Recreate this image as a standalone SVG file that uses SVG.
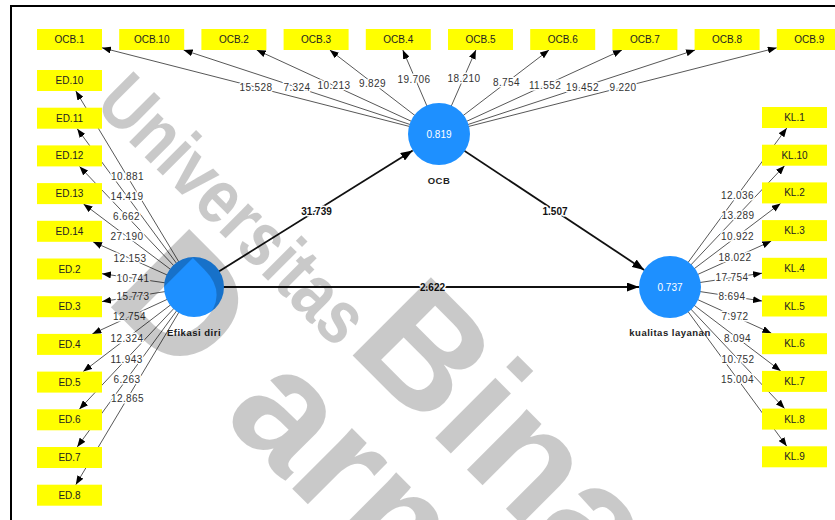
<svg xmlns="http://www.w3.org/2000/svg" width="835" height="520" viewBox="0 0 835 520">
<defs>
<marker id="ah" markerUnits="userSpaceOnUse" markerWidth="9" markerHeight="7" refX="9" refY="3.5" orient="auto"><path d="M0,0 L9,3.5 L0,7 z" fill="#000"/></marker>
<marker id="ahb" markerUnits="userSpaceOnUse" markerWidth="12" markerHeight="9" refX="12" refY="4.5" orient="auto"><path d="M0,0 L12,4.5 L0,9 z" fill="#000"/></marker>
</defs>
<style>
.box{fill:#ffff00}
.bt{font-family:"Liberation Sans",Arial,sans-serif;font-size:10px;fill:#222;text-anchor:middle}
.ol{stroke:#444;stroke-width:0.9;fill:none;marker-end:url(#ah)}
.il{stroke:#111;stroke-width:1.8;fill:none;marker-end:url(#ahb)}
.olab{font-family:"Liberation Sans",Arial,sans-serif;font-size:10px;fill:#333;text-anchor:middle;letter-spacing:0.4px;stroke:#fff;stroke-width:3;paint-order:stroke;stroke-linejoin:round}
.ilab{font-family:"Liberation Sans",Arial,sans-serif;font-size:10px;font-weight:bold;fill:#111;text-anchor:middle;stroke:#fff;stroke-width:3;paint-order:stroke;stroke-linejoin:round}
.lv{fill:#1e90ff}
.val{font-family:"Liberation Sans",Arial,sans-serif;font-size:10px;fill:#fff;text-anchor:middle}
.nl{font-family:"Liberation Sans",Arial,sans-serif;font-size:9.5px;font-weight:bold;fill:#222;text-anchor:middle;letter-spacing:0.5px}
.wm{font-family:"Liberation Sans",Arial,sans-serif;font-weight:bold;fill:#000;fill-opacity:0.21}
</style>
<rect x="0" y="0" width="835" height="520" fill="#fff"/>
<rect x="11" y="6" width="900" height="600" fill="none" stroke="#000" stroke-width="2"/>

<g id="connectors">
<line class="ol" x1="439" y1="134" x2="102" y2="47.8"/>
<line class="ol" x1="439" y1="134" x2="183.6" y2="50"/>
<line class="ol" x1="439" y1="134" x2="256.7" y2="50"/>
<line class="ol" x1="439" y1="134" x2="329.8" y2="50"/>
<line class="ol" x1="439" y1="134" x2="402.8" y2="50"/>
<line class="ol" x1="439" y1="134" x2="475.9" y2="50"/>
<line class="ol" x1="439" y1="134" x2="549" y2="50"/>
<line class="ol" x1="439" y1="134" x2="622" y2="50"/>
<line class="ol" x1="439" y1="134" x2="695.1" y2="50"/>
<line class="ol" x1="439" y1="134" x2="776.8" y2="47.8"/>

<line class="ol" x1="194" y1="287" x2="75.8" y2="91"/>
<line class="ol" x1="194" y1="287" x2="77.2" y2="128.7"/>
<line class="ol" x1="194" y1="287" x2="79.5" y2="166.4"/>
<line class="ol" x1="194" y1="287" x2="83.5" y2="203.9"/>
<line class="ol" x1="194" y1="287" x2="93" y2="241.8"/>
<line class="ol" x1="194" y1="287" x2="102" y2="273.7"/>
<line class="ol" x1="194" y1="287" x2="102" y2="301.6"/>
<line class="ol" x1="194" y1="287" x2="92.3" y2="333.9"/>
<line class="ol" x1="194" y1="287" x2="83.2" y2="371.6"/>
<line class="ol" x1="194" y1="287" x2="79.3" y2="409.3"/>
<line class="ol" x1="194" y1="287" x2="77.2" y2="447"/>
<line class="ol" x1="194" y1="287" x2="75.8" y2="484.7"/>

<line class="ol" x1="670" y1="287" x2="786.8" y2="128"/>
<line class="ol" x1="670" y1="287" x2="784.6" y2="165.7"/>
<line class="ol" x1="670" y1="287" x2="780.6" y2="203.4"/>
<line class="ol" x1="670" y1="287" x2="771.3" y2="241.1"/>
<line class="ol" x1="670" y1="287" x2="762" y2="273.2"/>
<line class="ol" x1="670" y1="287" x2="762" y2="301"/>
<line class="ol" x1="670" y1="287" x2="771.4" y2="333.2"/>
<line class="ol" x1="670" y1="287" x2="780.7" y2="370.9"/>
<line class="ol" x1="670" y1="287" x2="784.6" y2="408.6"/>
<line class="ol" x1="670" y1="287" x2="786.8" y2="446.3"/>

<line class="il" x1="194" y1="287" x2="412.7" y2="150.4"/>
<line class="il" x1="439" y1="134" x2="644.2" y2="269.9"/>
<line class="il" x1="194" y1="287" x2="639" y2="287"/>

<text class="olab" x="256" y="90.6">15.528</text>
<text class="olab" x="297" y="90.7">7.324</text>
<text class="olab" x="334" y="89">10.213</text>
<text class="olab" x="372.5" y="86.5">9.829</text>
<text class="olab" x="414" y="83">19.706</text>
<text class="olab" x="464" y="82">18.210</text>
<text class="olab" x="506.5" y="86.3">8.754</text>
<text class="olab" x="545" y="89">11.552</text>
<text class="olab" x="582.5" y="91">19.452</text>
<text class="olab" x="623" y="90.6">9.220</text>

<text class="olab" x="127.5" y="180">10.881</text>
<text class="olab" x="127" y="199.5">14.419</text>
<text class="olab" x="126.5" y="219.5">6.662</text>
<text class="olab" x="127" y="240">27.190</text>
<text class="olab" x="130" y="261.8">12.153</text>
<text class="olab" x="133" y="281.7">10.741</text>
<text class="olab" x="133" y="300.3">15.773</text>
<text class="olab" x="129.5" y="320.3">12.754</text>
<text class="olab" x="127" y="342">12.324</text>
<text class="olab" x="126.5" y="362.6">11.943</text>
<text class="olab" x="127" y="382.6">6.263</text>
<text class="olab" x="127.5" y="402.2">12.865</text>

<text class="olab" x="737.5" y="198.8">12.036</text>
<text class="olab" x="738" y="218.6">13.289</text>
<text class="olab" x="737.5" y="239.5">10.922</text>
<text class="olab" x="735" y="261.2">18.022</text>
<text class="olab" x="732" y="281.3">17.754</text>
<text class="olab" x="732" y="300">8.694</text>
<text class="olab" x="735" y="320">7.972</text>
<text class="olab" x="737.5" y="341.8">8.094</text>
<text class="olab" x="738" y="362.8">10.752</text>
<text class="olab" x="737.5" y="382.7">15.004</text>

<text class="ilab" x="316.5" y="215">31.739</text>
<text class="ilab" x="555" y="215">1.507</text>
<text class="ilab" x="432.5" y="290.6">2.622</text>
</g>

<g id="OCB.1"><rect class="box" x="37" y="29" width="65" height="21"/><text class="bt" x="69.5" y="43">OCB.1</text></g>
<g id="OCB.10"><rect class="box" x="119.2" y="29" width="65" height="21"/><text class="bt" x="151.7" y="43">OCB.10</text></g>
<g id="OCB.2"><rect class="box" x="201.4" y="29" width="65" height="21"/><text class="bt" x="233.9" y="43">OCB.2</text></g>
<g id="OCB.3"><rect class="box" x="283.6" y="29" width="65" height="21"/><text class="bt" x="316.1" y="43">OCB.3</text></g>
<g id="OCB.4"><rect class="box" x="365.8" y="29" width="65" height="21"/><text class="bt" x="398.3" y="43">OCB.4</text></g>
<g id="OCB.5"><rect class="box" x="448" y="29" width="65" height="21"/><text class="bt" x="480.5" y="43">OCB.5</text></g>
<g id="OCB.6"><rect class="box" x="530.2" y="29" width="65" height="21"/><text class="bt" x="562.7" y="43">OCB.6</text></g>
<g id="OCB.7"><rect class="box" x="612.4" y="29" width="65" height="21"/><text class="bt" x="644.9" y="43">OCB.7</text></g>
<g id="OCB.8"><rect class="box" x="694.6" y="29" width="65" height="21"/><text class="bt" x="727.1" y="43">OCB.8</text></g>
<g id="OCB.9"><rect class="box" x="776.8" y="29" width="65" height="21"/><text class="bt" x="809.3" y="43">OCB.9</text></g>

<g id="ED.10"><rect class="box" x="37" y="70" width="65" height="21"/><text class="bt" x="69.5" y="84">ED.10</text></g>
<g id="ED.11"><rect class="box" x="37" y="107.7" width="65" height="21"/><text class="bt" x="69.5" y="121.7">ED.11</text></g>
<g id="ED.12"><rect class="box" x="37" y="145.4" width="65" height="21"/><text class="bt" x="69.5" y="159.4">ED.12</text></g>
<g id="ED.13"><rect class="box" x="37" y="183.1" width="65" height="21"/><text class="bt" x="69.5" y="197.1">ED.13</text></g>
<g id="ED.14"><rect class="box" x="37" y="220.8" width="65" height="21"/><text class="bt" x="69.5" y="234.8">ED.14</text></g>
<g id="ED.2"><rect class="box" x="37" y="258.5" width="65" height="21"/><text class="bt" x="69.5" y="272.5">ED.2</text></g>
<g id="ED.3"><rect class="box" x="37" y="296.2" width="65" height="21"/><text class="bt" x="69.5" y="310.2">ED.3</text></g>
<g id="ED.4"><rect class="box" x="37" y="333.9" width="65" height="21"/><text class="bt" x="69.5" y="347.9">ED.4</text></g>
<g id="ED.5"><rect class="box" x="37" y="371.6" width="65" height="21"/><text class="bt" x="69.5" y="385.6">ED.5</text></g>
<g id="ED.6"><rect class="box" x="37" y="409.3" width="65" height="21"/><text class="bt" x="69.5" y="423.3">ED.6</text></g>
<g id="ED.7"><rect class="box" x="37" y="447" width="65" height="21"/><text class="bt" x="69.5" y="461">ED.7</text></g>
<g id="ED.8"><rect class="box" x="37" y="484.7" width="65" height="21"/><text class="bt" x="69.5" y="498.7">ED.8</text></g>

<g id="KL.1"><rect class="box" x="762" y="107" width="65" height="21"/><text class="bt" x="794.5" y="121">KL.1</text></g>
<g id="KL.10"><rect class="box" x="762" y="144.7" width="65" height="21"/><text class="bt" x="794.5" y="158.7">KL.10</text></g>
<g id="KL.2"><rect class="box" x="762" y="182.4" width="65" height="21"/><text class="bt" x="794.5" y="196.4">KL.2</text></g>
<g id="KL.3"><rect class="box" x="762" y="220.1" width="65" height="21"/><text class="bt" x="794.5" y="234.1">KL.3</text></g>
<g id="KL.4"><rect class="box" x="762" y="257.8" width="65" height="21"/><text class="bt" x="794.5" y="271.8">KL.4</text></g>
<g id="KL.5"><rect class="box" x="762" y="295.5" width="65" height="21"/><text class="bt" x="794.5" y="309.5">KL.5</text></g>
<g id="KL.6"><rect class="box" x="762" y="333.2" width="65" height="21"/><text class="bt" x="794.5" y="347.2">KL.6</text></g>
<g id="KL.7"><rect class="box" x="762" y="370.9" width="65" height="21"/><text class="bt" x="794.5" y="384.9">KL.7</text></g>
<g id="KL.8"><rect class="box" x="762" y="408.6" width="65" height="21"/><text class="bt" x="794.5" y="422.6">KL.8</text></g>
<g id="KL.9"><rect class="box" x="762" y="446.3" width="65" height="21"/><text class="bt" x="794.5" y="460.3">KL.9</text></g>

<g id="OCB"><circle class="lv" cx="439" cy="134" r="31"/><text class="val" x="439" y="137.5">0.819</text><text class="nl" x="439" y="184">OCB</text></g>
<g id="Efikasi-diri"><circle class="lv" cx="194" cy="287" r="30"/><text class="nl" x="194" y="335.5">Efikasi diri</text></g>
<g id="kualitas-layanan"><circle class="lv" cx="670" cy="287" r="31"/><text class="val" x="670" y="290.5">0.737</text><text class="nl" x="670" y="335.5">kualitas layanan</text></g>

<g id="watermark" transform="rotate(45)">
<text class="wm" x="141" y="9" font-size="77" textLength="344" lengthAdjust="spacingAndGlyphs">Universitas</text>
<text class="wm" x="490" y="2" font-size="161">Bina</text>
<text class="wm" x="285" y="139" font-size="161">D<tspan dx="50">arma</tspan></text>
</g>
</svg>
